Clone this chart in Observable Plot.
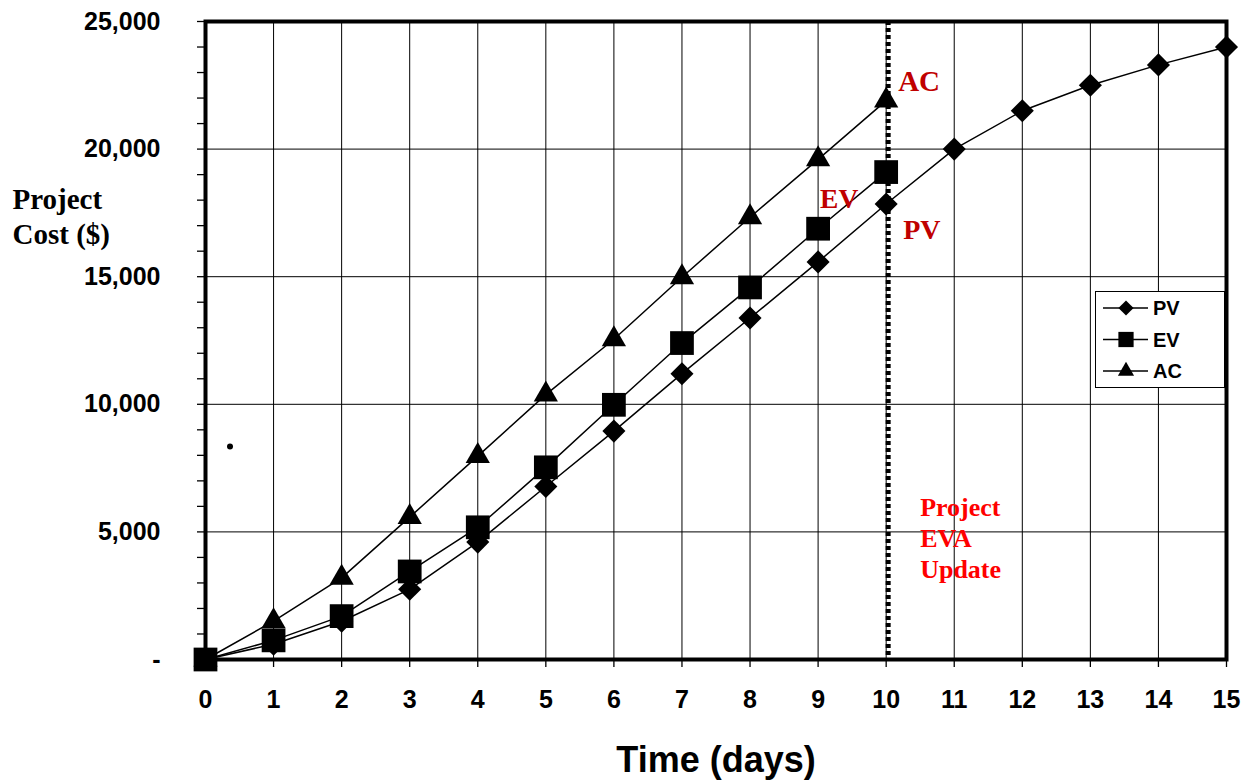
<!DOCTYPE html>
<html><head><meta charset="utf-8">
<script src="https://cdn.jsdelivr.net/npm/d3@7"></script>
<script src="https://cdn.jsdelivr.net/npm/@observablehq/plot@0.6"></script>
<style>
body{margin:0;background:#fff}
#wrap{position:relative;width:1250px;height:781px;overflow:hidden}
#legend{position:absolute;left:1095px;top:291px}
</style>
</head><body><div id="wrap"></div>
<script>
// ---- data ----
const days = d3.range(0, 16);
const pv = [0, 600, 1500, 2750, 4600, 6780, 8950, 11200, 13380, 15580, 17850, 20000, 21500, 22500, 23300, 24000];
const ev = [0, 750, 1700, 3450, 5180, 7530, 9980, 12400, 14580, 16880, 19100];
const ac = [0, 1500, 3200, 5580, 7970, 10380, 12550, 14980, 17330, 19600, 21900];
const seriesNames = ["PV", "EV", "AC"];
const updateDay = [10];
const xTicks = d3.range(0, 16);
const yMajor = [0, 5000, 10000, 15000, 20000, 25000];
const yMinor = d3.range(0, 25001, 1000);
const gridDays = d3.range(1, 15);
const gridCosts = [5000, 10000, 15000, 20000];
const stray = [{day: 0.36, cost: 8350}];

// ---- build table ----
const valuesBy = {PV: pv, EV: ev, AC: ac};
const symbolBy = {PV: "diamond2", EV: "square", AC: "triangle"};
const rBy = {PV: 10.4, EV: 13.4, AC: 9.0};
const rows = seriesNames.flatMap(s => valuesBy[s].map((v, i) => ({series: s, day: days[i], cost: v})));
const last = s => rows.filter(d => d.series === s && d.day === 10);
const evAt9 = rows.filter(d => d.series === "EV" && d.day === 9);

const serif = "'Liberation Serif', 'Times New Roman', serif";
const sans = "'Liberation Sans', Arial, sans-serif";

const chart = Plot.plot({
  width: 1250, height: 781,
  marginLeft: 205, marginRight: 24, marginTop: 21, marginBottom: 122,
  x: {domain: [0, 15]},
  y: {domain: [0, 25000]},
  style: {fontFamily: sans, background: "#fff", color: "#000", overflow: "visible"},
  marks: [
    Plot.ruleX(gridDays, {stroke: "#000", strokeWidth: 1}),
    Plot.ruleY(gridCosts, {stroke: "#000", strokeWidth: 1}),
    Plot.axisY(yMinor, {tickSize: 8, tickFormat: () => "", label: null, strokeWidth: 1.3}),
    Plot.axisY(yMajor, {tickSize: 0, tickPadding: 45, label: null, fontSize: 25, fontWeight: "bold",
      tickFormat: d => d === 0 ? "-" : d3.format(",")(d)}),
    Plot.axisX(xTicks, {tickSize: 8, tickPadding: 23, label: null, fontSize: 25, fontWeight: "bold", strokeWidth: 1.3}),
    Plot.frame({stroke: "#000", strokeWidth: 4}),
    Plot.ruleX(updateDay, {stroke: "#000", strokeWidth: 5, strokeDasharray: "4,3", dx: 2}),
    Plot.line(rows, {x: "day", y: "cost", z: "series", stroke: "#000", strokeWidth: 1.5}),
    ...seriesNames.map(s => Plot.dot(rows.filter(d => d.series === s), {
      x: "day", y: "cost", symbol: symbolBy[s], r: rBy[s], fill: "#000", stroke: "none"})),
    Plot.dot(stray, {x: "day", y: "cost", r: 3, fill: "#000", stroke: "none"}),
    // annotations
    Plot.text(last("AC"), {x: "day", y: "cost", text: () => "AC", dx: 12, dy: -19, textAnchor: "start",
      fill: "#c00000", fontFamily: serif, fontWeight: "bold", fontSize: 29}),
    Plot.text(evAt9, {x: "day", y: "cost", text: () => "EV", dx: 2, dy: -30, textAnchor: "start",
      fill: "#c00000", fontFamily: serif, fontWeight: "bold", fontSize: 27.5}),
    Plot.text(last("PV"), {x: "day", y: "cost", text: () => "PV", dx: 17, dy: 26, textAnchor: "start",
      fill: "#c00000", fontFamily: serif, fontWeight: "bold", fontSize: 28}),
    Plot.text(updateDay, {x: d => d, frameAnchor: "bottom", text: () => "Project\nEVA\nUpdate", dx: 34, dy: -165,
      textAnchor: "start", lineAnchor: "top", lineHeight: 1.18,
      fill: "#ff0000", fontFamily: serif, fontWeight: "bold", fontSize: 26}),
    // axis titles
    Plot.text(["Project\nCost ($)"], {frameAnchor: "top-left", dx: -193, dy: 163, textAnchor: "start",
      lineAnchor: "top", lineHeight: 1.2, fill: "#000", fontFamily: serif, fontWeight: "bold", fontSize: 29}),
    Plot.text(["Time (days)"], {frameAnchor: "bottom", dy: 101, lineAnchor: "middle",
      fill: "#000", fontFamily: sans, fontWeight: "bold", fontSize: 36})
  ]
});
const wrap = document.getElementById("wrap");
wrap.appendChild(chart);

// ---- legend ----
const lw = 130, lh = 97;
const leg = d3.select(wrap).append("svg").attr("id", "legend").attr("width", lw).attr("height", lh);
leg.append("rect").attr("x", 0.5).attr("y", 0.5).attr("width", lw - 1).attr("height", lh - 1)
  .attr("fill", "#fff").attr("stroke", "#000").attr("stroke-width", 1);
const legSym = {PV: [d3.symbolDiamond2, 6.8], EV: [d3.symbolSquare, 8.6], AC: [d3.symbolTriangle, 6.0]};
seriesNames.forEach((s, i) => {
  const y = 17 + i * 31.5;
  const g = leg.append("g");
  g.append("line").attr("x1", 8).attr("x2", 53).attr("y1", y).attr("y2", y).attr("stroke", "#000").attr("stroke-width", 1.5);
  g.append("path").attr("transform", `translate(31,${y})`)
    .attr("d", d3.symbol(legSym[s][0], legSym[s][1] ** 2 * Math.PI)()).attr("fill", "#000");
  g.append("text").attr("x", 58).attr("y", y).attr("dy", "0.35em").attr("font-family", sans)
    .attr("font-weight", "bold").attr("font-size", 20).text(s);
});
</script>
</body></html>
